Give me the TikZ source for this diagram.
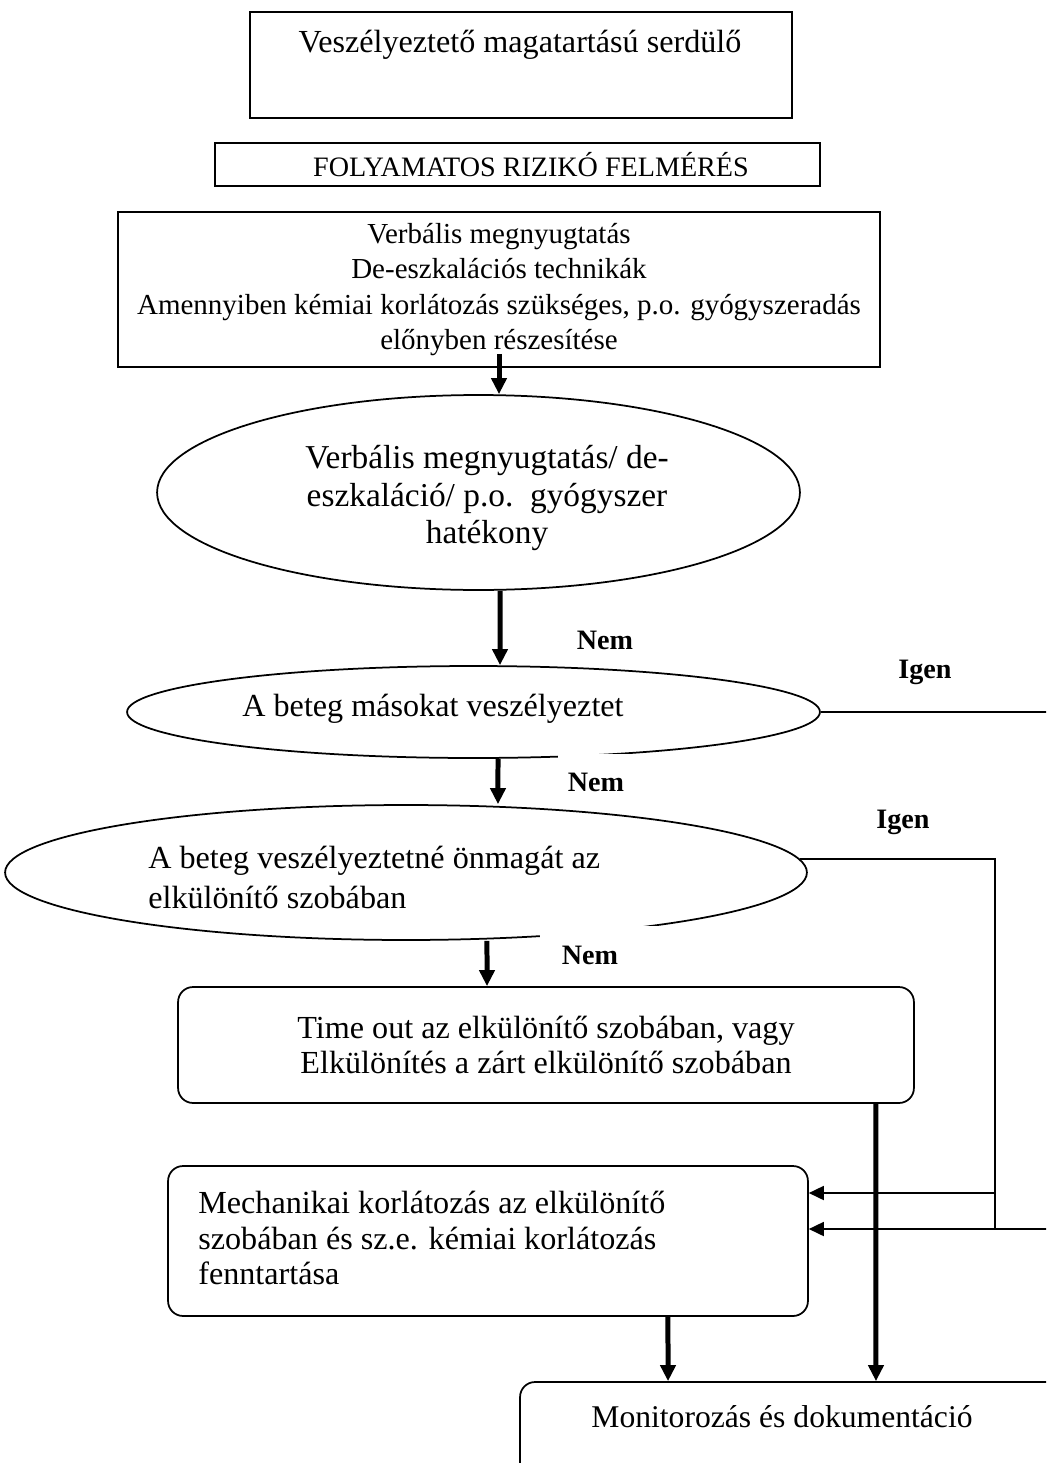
\documentclass[tikz,border=0pt]{standalone}
\usepackage{fontspec}
\setmainfont{Liberation Serif}
\usetikzlibrary{calc,shapes.geometric,arrows.meta}

\begin{document}
\begin{tikzpicture}[x=0.02cm, y=-0.02cm, font=\fontsize{16.5}{20}\selectfont,
		frame/.style={draw, line width=0.035cm, inner sep=0pt, align=center},
		rframe/.style={frame, rounded corners=0.3cm},
		oval/.style={draw, ellipse, line width=0.035cm, inner sep=0pt, align=center},
		txt/.style={inner sep=0pt, align=left},
		big/.style={font=\fontsize{18.3}{#1}\selectfont},
		answer/.style={inner sep=0pt, font=\fontsize{16}{20}\selectfont\bfseries},
		bigarrow/.style={line width=0.1cm, -{Triangle[length=0.32cm, width=0.3cm]}},
		thinarrow/.style={line width=0.035cm, -{Triangle[length=0.3cm, width=0.28cm]}},
		thinline/.style={line width=0.035cm}]
			%%%%% START %%%%%
			\useasboundingbox (0,0) rectangle (1046,1463);
			\clip (0,0) rectangle (1046,1463);
			
			\node[frame, minimum width=10.84cm, minimum height=2.12cm] (top) at (521,65) {};
			\node[txt, big=20] (toptext) at (520,45) {Veszélyeztető magatartású serdülő};
			\node[frame, minimum width=12.1cm, minimum height=0.86cm] (risk) at (517.5,164.5) {};
			\node[txt, font=\fontsize{16}{20}\selectfont] (risktext) at (531,165) {FOLYAMATOS RIZIKÓ FELMÉRÉS};
			\node[frame, minimum width=15.24cm, minimum height=3.1cm] (calm) at (499,289.5) {Verbális megnyugtatás\\De-eszkalációs technikák\\Amennyiben kémiai korlátozás szükséges, p.o. gyógyszeradás\\előnyben részesítése};
			
			\node[oval, minimum width=12.86cm, minimum height=3.9cm] (effect) at (478.5,492.5) {};
			\node[oval, minimum width=13.86cm, minimum height=1.84cm] (others) at (473.5,712) {};
			\node[oval, minimum width=16.04cm, minimum height=2.7cm] (self) at (406,872.5) {};
			\fill[white] (558,754) rectangle (830,775);
			\fill[white] (540,926) rectangle (820,950);
			\node[txt, align=center, font=\fontsize{19}{21.3}\selectfont] (effecttext) at (487,498) {Verbális megnyugtatás/ de-\\eszkaláció/ p.o.\ \ gyógyszer\\hatékony};
			\node[txt, big=20] (otherstext) at (433,709) {A beteg másokat veszélyeztet};
			\node[txt, anchor=west, big=22.8] (selftext) at (148,877) {A beteg veszélyeztetné önmagát az\\elkülönítő szobában};
			
			\node[rframe, minimum width=14.72cm, minimum height=2.32cm, big=20] (timeout) at (546,1045) {Time out az elkülönítő szobában, vagy\\Elkülönítés a zárt elkülönítő szobában};
			\node[rframe, minimum width=12.8cm, minimum height=3cm] (mech) at (488,1241) {};
			\node[txt, anchor=west, big=20] (mechtext) at (198,1238) {Mechanikai korlátozás az elkülönítő\\szobában és sz.e. kémiai korlátozás\\fenntartása};
			\node[rframe, minimum width=11cm, minimum height=2.36cm] (monitor) at (795,1441) {};
			\node[txt, font=\fontsize{18}{20}\selectfont] (monitortext) at (782,1417) {Monitorozás és dokumentáció};
			
			\node[answer] (nem1) at (605,640) {Nem};
			\node[answer] (igen1) at (925,672) {Igen};
			\node[answer] (nem2) at (596,782) {Nem};
			\node[answer] (igen2) at (903,822) {Igen};
			\node[answer] (nem3) at (590,955) {Nem};
			
			\coordinate (outA) at (1060,712);
			\coordinate (corner) at (995,1229);
			\coordinate (tap) at (995,1193);
			\coordinate (outB) at (1060,1229);
			
			% down the middle
			\draw[bigarrow] ([yshift=0.28cm]calm.south) -- (calm.south |- effect.north);
			\draw[bigarrow] ([xshift=0.43cm]effect.south) -- ([xshift=0.53cm]others.north);
			\draw[bigarrow] ([xshift=0.49cm]others.south) -- ([xshift=1.84cm]self.north);
			\draw[bigarrow] ([xshift=1.62cm]self.south) -- ([xshift=-1.18cm]timeout.north);
			\draw[bigarrow] ([xshift=6.6cm]timeout.south) -- ([xshift=1.62cm]monitor.north);
			\draw[bigarrow] ([xshift=3.6cm]mech.south) -- ([xshift=-2.54cm]monitor.north);
			
			% igen branches
			\draw[thinline] (others.east) -- (outA);
			\draw[thinline] (self.2) -| (corner);
			\draw[thinarrow] (tap) -- (tap -| mech.east);
			\draw[thinarrow] (outB) -- (outB -| mech.east);
			%%%%% END %%%%%
\end{tikzpicture}
\end{document}
